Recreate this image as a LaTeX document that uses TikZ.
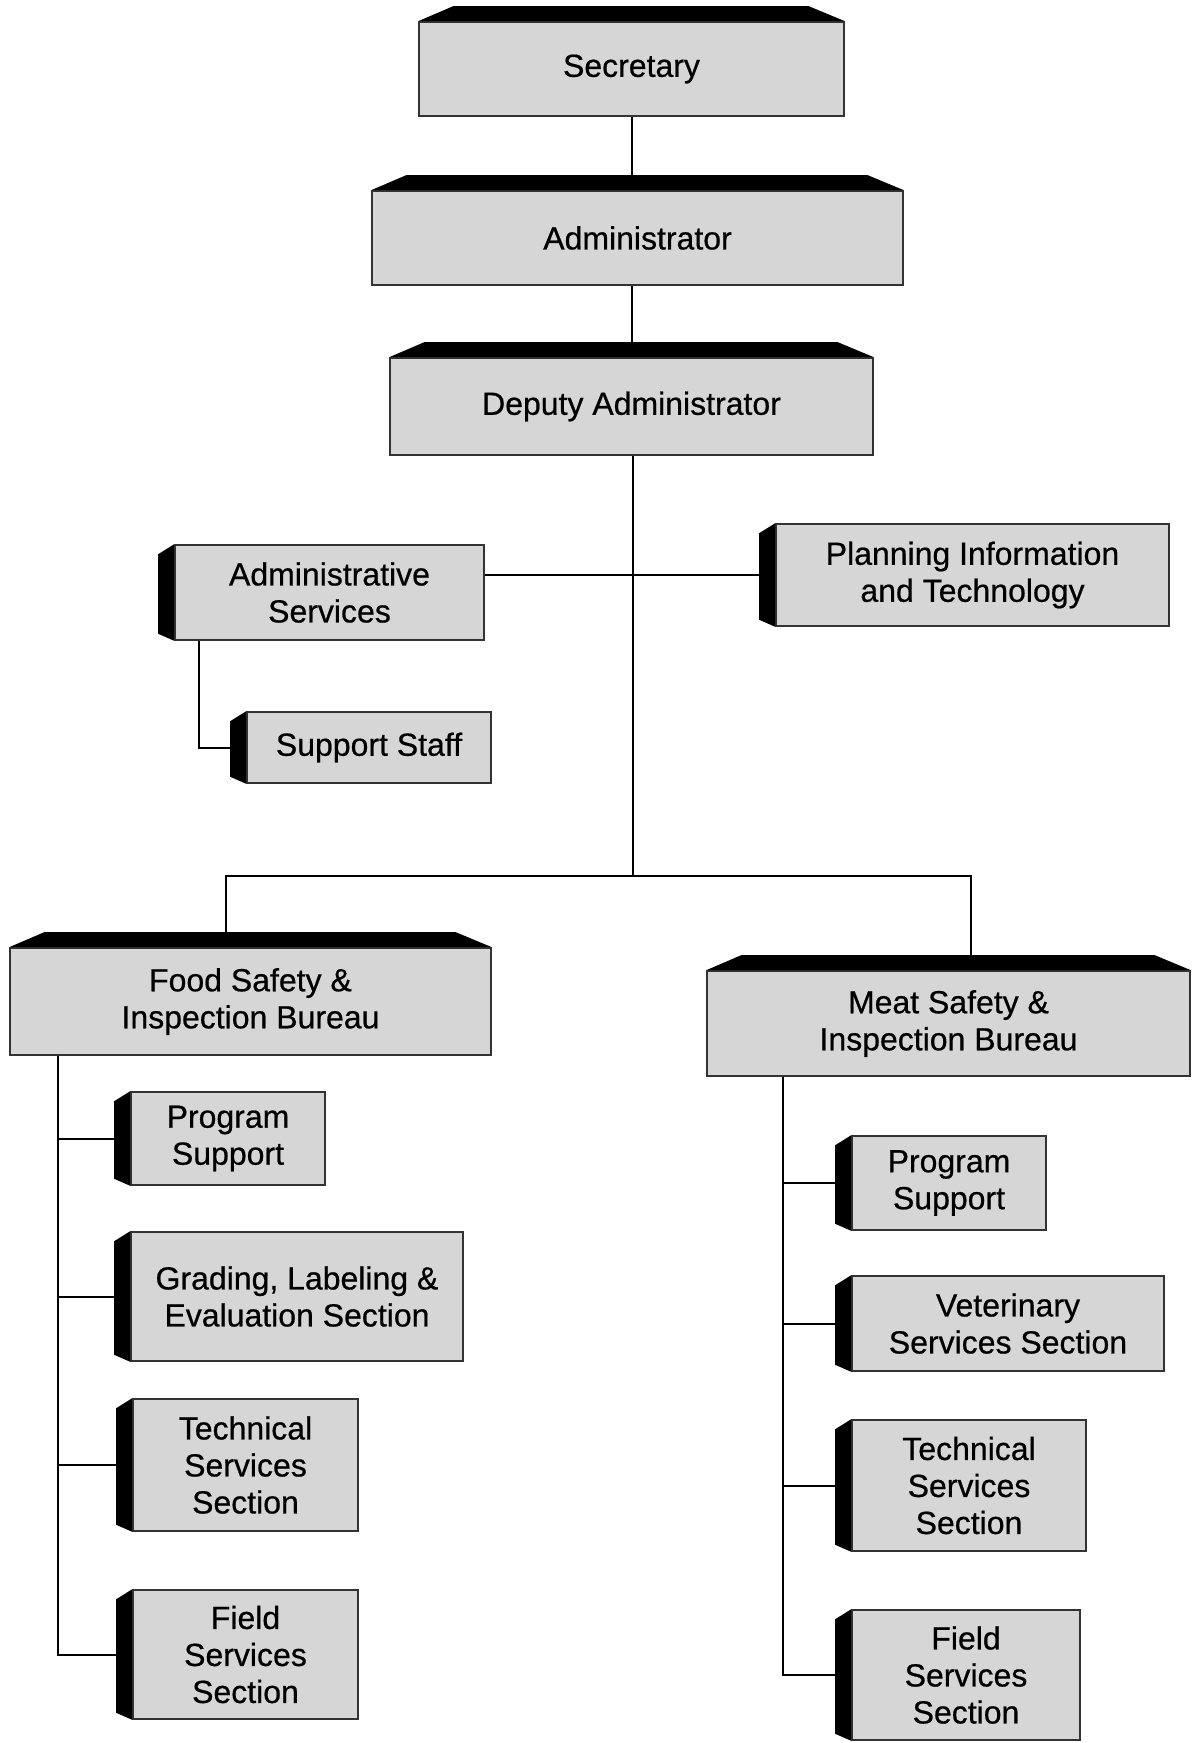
\documentclass[tikz,border=0pt]{standalone}
\usepackage{fontspec}
\setmainfont{Liberation Sans}
\newfontfamily\orgfont{Liberation Sans}[FakeBold=0.6]
\usepackage{xcolor}
\usetikzlibrary{calc}
\definecolor{boxgray}{gray}{0.84}

\begin{document}
\begin{tikzpicture}[x=0.5pt,y=-0.5pt,
		unit/.style={draw=black!80,line width=0.8pt,fill=boxgray,align=center,inner sep=0pt,
			font=\orgfont\fontsize{16}{18.5}\selectfont},
		link/.style={line width=1pt}]
		\useasboundingbox (0,0) rectangle (1193,1743);
		\node[unit,minimum width=212.5pt,minimum height=47pt] (S) at (631.5,69) {Secretary};
		\node[unit,minimum width=265.5pt,minimum height=47pt] (A) at (637.5,238) {Administrator};
		\node[unit,minimum width=241.5pt,minimum height=48.5pt] (D) at (631.5,406.5) {Deputy Administrator};
		\node[unit,minimum width=154.5pt,minimum height=47.5pt] (AS) at (329.5,592.5) {Administrative\\Services};
		\node[unit,minimum width=196.5pt,minimum height=51pt] (PIT) at (972.5,575) {Planning Information\\and Technology};
		\node[unit,minimum width=122pt,minimum height=35.5pt] (SS) at (369,747.5) {Support Staff};
		\node[unit,minimum width=240.5pt,minimum height=53.5pt] (F) at (250.5,1001.5) {Food Safety \&\\Inspection Bureau};
		\node[unit,minimum width=241.5pt,minimum height=52.5pt] (M) at (948.5,1023.5) {Meat Safety \&\\Inspection Bureau};
		%
		\node[unit,minimum width=97pt,minimum height=46.5pt] (F1) at (228,1138.5) {Program\\Support};
		\node[unit,minimum width=166pt,minimum height=64.5pt] (F2) at (297,1296.5) {Grading, Labeling \&\\Evaluation Section};
		\node[unit,minimum width=112.5pt,minimum height=66pt] (F3) at (245.5,1465) {Technical\\Services\\Section};
		\node[unit,minimum width=112.5pt,minimum height=64.5pt] (F4) at (245.5,1654.5) {Field\\Services\\Section};
		\node[unit,minimum width=97pt,minimum height=47pt] (M1) at (949,1183) {Program\\Support};
		\node[unit,minimum width=156pt,minimum height=47.5pt] (M2) at (1008,1323.5) {Veterinary\\Services Section};
		\node[unit,minimum width=117pt,minimum height=65.5pt] (M3) at (969,1485.5) {Technical\\Services\\Section};
		\node[unit,minimum width=114pt,minimum height=65pt] (M4) at (966,1675) {Field\\Services\\Section};
		%
		\foreach \n in {S,A,D,F,M}
			\fill (\n.north west) -- ++(35,-15) -- ($(\n.north east)+(-36,-15)$) -- (\n.north east) -- cycle;
		\foreach \n in {AS,PIT,SS,F1,F2,F3,F4,M1,M2,M3,M4}
			\fill (\n.north west) -- ++(-16,10) -- ($(\n.south west)+(-16,-7)$) -- (\n.south west) -- cycle;
		%
		\coordinate (split) at (633,876);
		\coordinate (Fs) at ([xshift=24.5pt]F.south west);
		\coordinate (Ms) at ([xshift=38.5pt]M.south west);
		\draw[link] (S.south) -- (S.south |- A.north);
		\draw[link] (S.south |- A.south) -- (S.south |- D.north);
		\draw[link] (D.south -| split) -- (split);
		\draw[link] (AS.east |- PIT.west) -- ([xshift=-8pt]PIT.west);
		\draw[link] ([xshift=12.5pt]AS.south west) |- ([xshift=-8pt]SS.west);
		\draw[link] ([shift={(-24.5,-15)}]F.north) |- (split) -| ([shift={(22.5,-15)}]M.north);
		\draw[link] (Fs) |- ([xshift=-8pt]F4.west);
		\foreach \n in {F1,F2,F3}
			\draw[link] (Fs |- \n.west) -- ([xshift=-8pt]\n.west);
		\draw[link] (Ms) |- ([xshift=-8pt]M4.west);
		\foreach \n in {M1,M2,M3}
			\draw[link] (Ms |- \n.west) -- ([xshift=-8pt]\n.west);
\end{tikzpicture}
\end{document}
